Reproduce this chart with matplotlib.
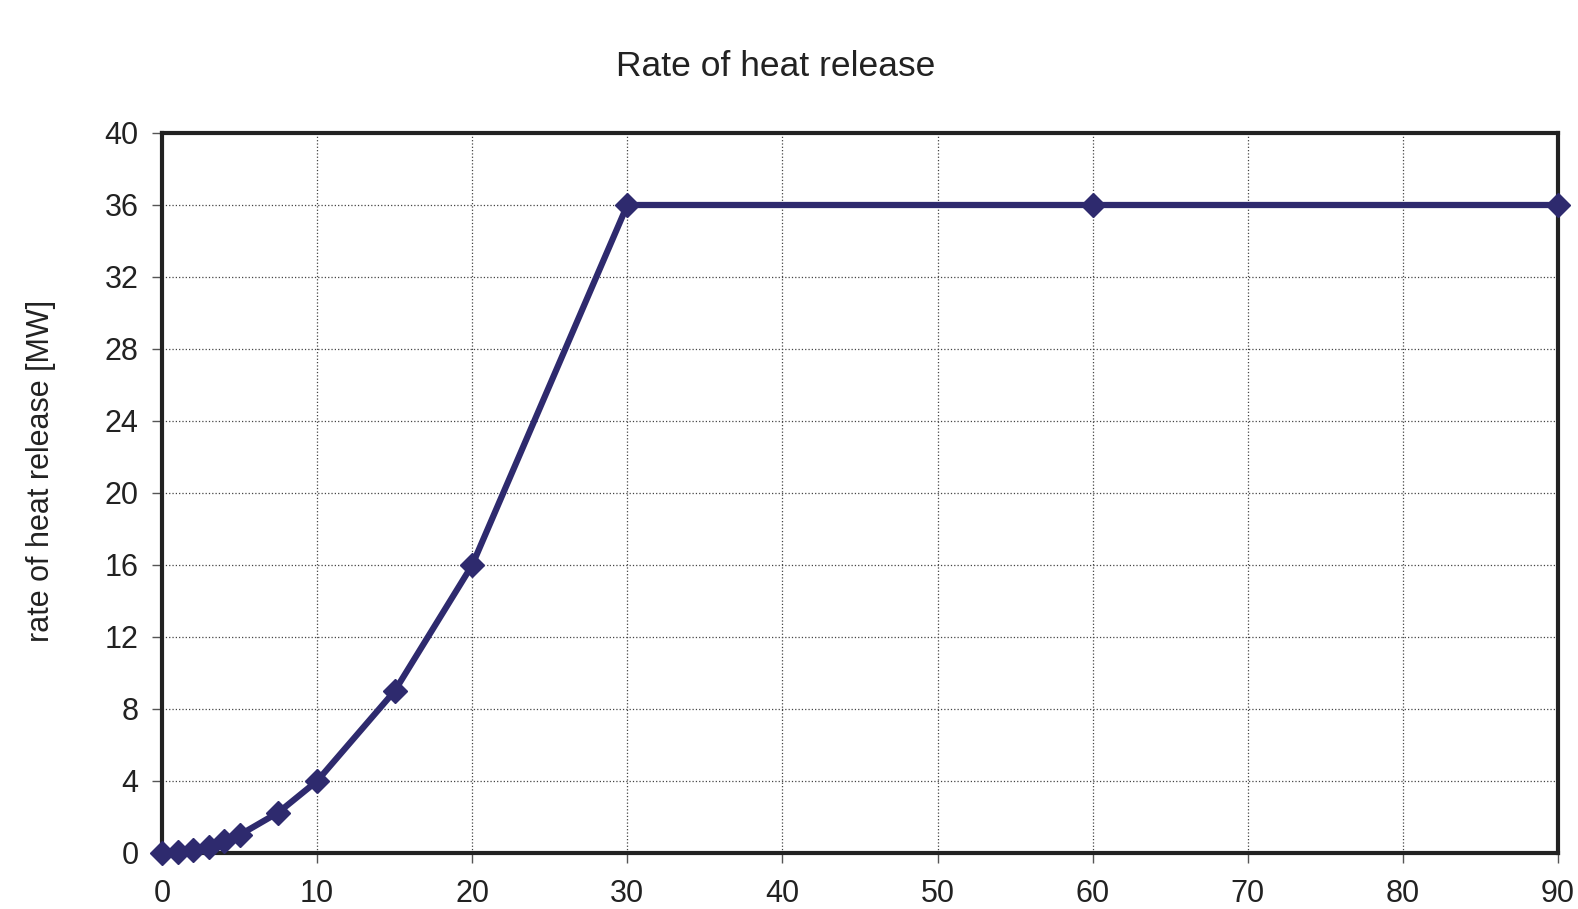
import matplotlib
matplotlib.use("Agg")
import matplotlib.pyplot as plt

plt.rcParams["font.family"] = ["Liberation Sans", "DejaVu Sans"]

time_min = [0, 1, 2, 3, 4, 5, 7.5, 10, 15, 20, 30, 60, 90]
hrr_mw = [0, 0.04, 0.16, 0.36, 0.64, 1.0, 2.25, 4, 9, 16, 36, 36, 36]
x_ticks = [0, 10, 20, 30, 40, 50, 60, 70, 80, 90]
y_ticks = [0, 4, 8, 12, 16, 20, 24, 28, 32, 36, 40]

fig = plt.figure(figsize=(15.78, 9.09), dpi=100)
ax = fig.add_axes([162 / 1578, 1 - 853 / 909, (1558 - 162) / 1578, (853 - 133) / 909])

ax.plot(time_min, hrr_mw, color="#2e2a6e", linewidth=4.5, marker="D",
        markersize=12, clip_on=False, zorder=5)

ax.set_xlim(0, 90)
ax.set_ylim(0, 40)
ax.set_xticks(x_ticks)
ax.set_yticks(y_ticks)
ax.tick_params(labelsize=22, direction="out", length=7, width=1, color="#555555",
               colors="#222222")
ax.tick_params(axis="x", pad=12)
ax.tick_params(axis="y", pad=10)
ax.grid(True, color="#444444", linestyle=":", linewidth=0.9)
for s in ax.spines.values():
    s.set_linewidth(3)
    s.set_color("#222222")

ax.set_ylabel("rate of heat release [MW]", fontsize=22, color="#222222")
ax.yaxis.set_label_coords(-0.076, 0.53)
fig.text(776 / 1578, 1 - 66 / 909, "Rate of heat release", fontsize=25.5,
         ha="center", va="center", color="#222222")

fig.savefig("out.png", dpi=100)
